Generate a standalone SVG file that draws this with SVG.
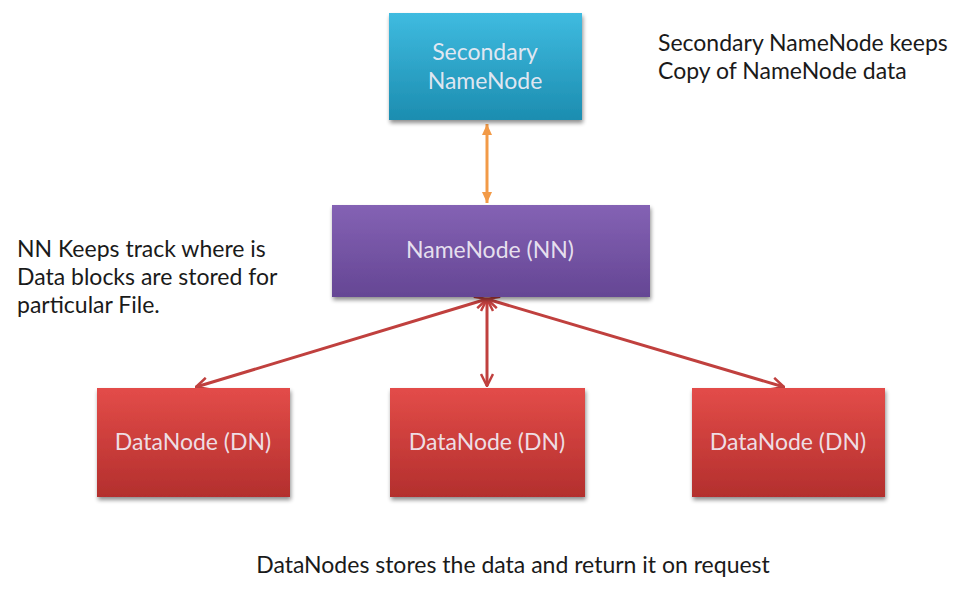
<svg xmlns="http://www.w3.org/2000/svg" width="953" height="598" viewBox="0 0 953 598">
  <defs>
    <linearGradient id="gTeal" x1="0" y1="0" x2="0" y2="1">
      <stop offset="0" stop-color="#3fbbe0"/>
      <stop offset="1" stop-color="#1c8db0"/>
    </linearGradient>
    <linearGradient id="gPurple" x1="0" y1="0" x2="0" y2="1">
      <stop offset="0" stop-color="#8462b4"/>
      <stop offset="1" stop-color="#654694"/>
    </linearGradient>
    <linearGradient id="gRed" x1="0" y1="0" x2="0" y2="1">
      <stop offset="0" stop-color="#e34c49"/>
      <stop offset="1" stop-color="#b32f2d"/>
    </linearGradient>
    <filter id="shadow" x="-10%" y="-10%" width="120%" height="130%">
      <feGaussianBlur in="SourceAlpha" stdDeviation="2"/>
      <feOffset dx="1" dy="3"/>
      <feComponentTransfer><feFuncA type="linear" slope="0.45"/></feComponentTransfer>
      <feMerge><feMergeNode/><feMergeNode in="SourceGraphic"/></feMerge>
    </filter>
    <marker id="arrRed" viewBox="0 0 14 14" refX="13" refY="7" markerWidth="14" markerHeight="14" markerUnits="userSpaceOnUse" orient="auto-start-reverse">
      <path d="M1,1 L13,7 L1,13" fill="none" stroke="#c0403e" stroke-width="2.5"/>
    </marker>
    <marker id="arrOrange" viewBox="0 0 12 12" refX="11" refY="6" markerWidth="12" markerHeight="12" markerUnits="userSpaceOnUse" orient="auto-start-reverse">
      <path d="M0,1 L11,6 L0,11 Z" fill="#f29a47"/>
    </marker>
  </defs>
  <style>
    .lbl { font-family: Lato, "Open Sans", "Liberation Sans", sans-serif; font-size: 23px; fill: #f2eef6; fill-opacity: 0.92; text-anchor: middle; }
    .note { font-family: Lato, "Open Sans", "Liberation Sans", sans-serif; font-size: 23px; fill: #1a1a1a; }
    .box { filter: url(#shadow); }
  </style>
  <rect width="953" height="598" fill="#ffffff"/>

  <g id="connectors">
    <line x1="487" y1="124" x2="487" y2="203" stroke="#f29a47" stroke-width="3" marker-start="url(#arrOrange)" marker-end="url(#arrOrange)"/>
    <g stroke="#c0403e" stroke-width="3" fill="none">
      <line x1="487" y1="299" x2="196" y2="387" marker-start="url(#arrRed)" marker-end="url(#arrRed)"/>
      <line x1="487" y1="299" x2="487" y2="386" marker-start="url(#arrRed)" marker-end="url(#arrRed)"/>
      <line x1="487" y1="299" x2="784" y2="387" marker-start="url(#arrRed)" marker-end="url(#arrRed)"/>
    </g>
  </g>

  <g id="secondary-namenode">
    <rect class="box" x="389" y="13" width="193" height="107" fill="url(#gTeal)"/>
    <text class="lbl" x="485" y="60">Secondary</text>
    <text class="lbl" x="485" y="89">NameNode</text>
  </g>

  <g id="namenode">
    <rect class="box" x="332" y="205" width="318" height="92" fill="url(#gPurple)"/>
    <text class="lbl" x="490" y="258">NameNode (NN)</text>
  </g>

  <g id="datanode-1">
    <rect class="box" x="97" y="388" width="193" height="109" fill="url(#gRed)"/>
    <text class="lbl" x="193" y="450">DataNode (DN)</text>
  </g>
  <g id="datanode-2">
    <rect class="box" x="390" y="388" width="195" height="109" fill="url(#gRed)"/>
    <text class="lbl" x="487" y="450">DataNode (DN)</text>
  </g>
  <g id="datanode-3">
    <rect class="box" x="692" y="388" width="193" height="109" fill="url(#gRed)"/>
    <text class="lbl" x="788" y="450">DataNode (DN)</text>
  </g>

  <g id="notes">
    <text class="note" x="658" y="51">Secondary NameNode keeps</text>
    <text class="note" x="658" y="79">Copy of NameNode data</text>
    <text class="note" x="17" y="257">NN Keeps track where is</text>
    <text class="note" x="17" y="285">Data blocks are stored for</text>
    <text class="note" x="17" y="313">particular File.</text>
    <text class="note" x="513" y="573" text-anchor="middle">DataNodes stores the data and return it on request</text>
  </g>
</svg>
